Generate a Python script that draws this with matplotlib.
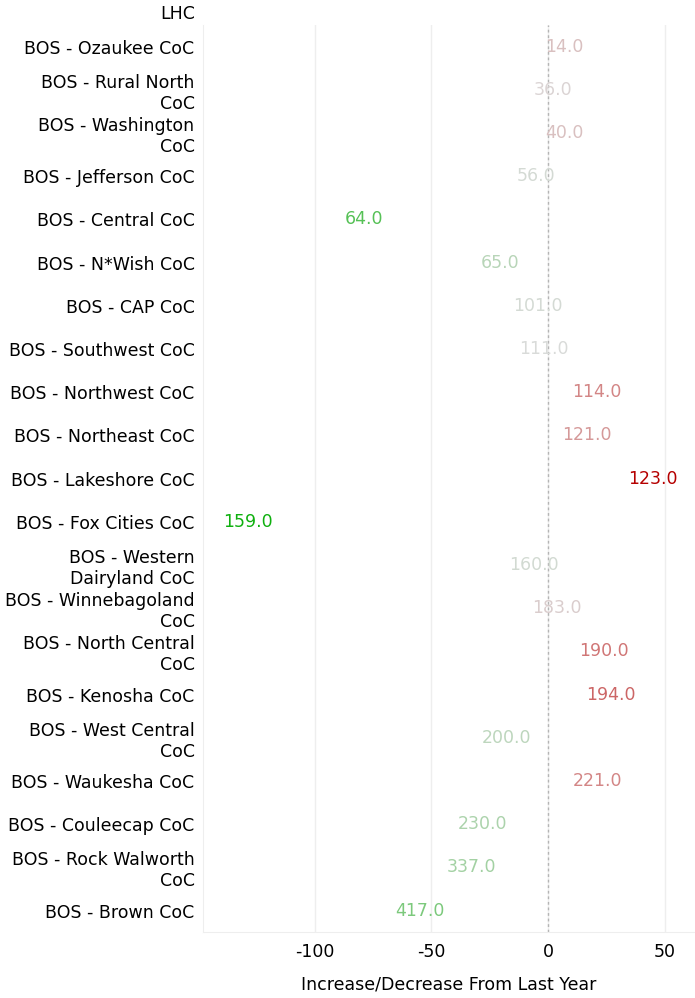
import matplotlib
matplotlib.use("agg")
import matplotlib.pyplot as plt
from matplotlib.colors import LinearSegmentedColormap, TwoSlopeNorm

# categories, top to bottom (first one is cut off at the top of the chart)
categories = ['BOS - Ozaukee CoC', 'BOS - Rural North\nCoC', 'BOS - Washington\nCoC',
              'BOS - Jefferson CoC', 'BOS - Central CoC', 'BOS - N*Wish CoC',
              'BOS - CAP CoC', 'BOS - Southwest CoC', 'BOS - Northwest CoC',
              'BOS - Northeast CoC', 'BOS - Lakeshore CoC', 'BOS - Fox Cities CoC',
              'BOS - Western\nDairyland CoC', 'BOS - Winnebagoland\nCoC',
              'BOS - North Central\nCoC', 'BOS - Kenosha CoC', 'BOS - West Central\nCoC',
              'BOS - Waukesha CoC', 'BOS - Couleecap CoC', 'BOS - Rock Walworth\nCoC',
              'BOS - Brown CoC']
counts = [14, 36, 40, 56, 64, 65, 101, 111, 114, 121, 123, 159, 160, 183, 190, 194,
          200, 221, 230, 337, 417]
change = [7, 2, 7, -5, -79, -20.5, -4.3, -2, 21, 16.5, 45, -128.6, -6, 3.6, 24, 27,
          -18, 21, -28, -33, -55]

plt.rcParams['font.family'] = ['DejaVu Sans']
fig = plt.figure(figsize=(6.95, 9.98), dpi=100)
ax = fig.add_axes([0.292, 0.066, 0.708, 0.909])

cmap = LinearSegmentedColormap.from_list('gr', ['#0fb00f', '#6cc66c', '#dcdcdc', '#d28080', '#b50000'])
norm = TwoSlopeNorm(vmin=min(change), vcenter=0, vmax=max(change))

ypos = list(range(1, len(categories) + 1))
for y, c, n in zip(ypos, change, counts):
    ax.text(c, y, '%.1f' % n, ha='center', va='center', fontsize=12.5,
            color=cmap(norm(c)), zorder=3)

# label of the category that sits above the visible area
ax.text(-0.015, 0.24, 'LHC', transform=ax.get_yaxis_transform(), ha='right',
        va='center', fontsize=12.5, clip_on=False)

ax.set_xlim(-148, 63)
ax.set_ylim(21.5, 0.5)
ax.set_yticks(ypos)
ax.set_yticklabels(categories, fontsize=12.5, linespacing=1.2)
ax.set_xticks([-100, -50, 0, 50])
ax.set_xticklabels(['-100', '-50', '0', '50'], fontsize=12.5)
ax.tick_params(length=0, pad=6)
ax.tick_params(axis='x', pad=8)
ax.grid(axis='x', color='#eeeeee', linewidth=1)
ax.axvline(0, color='#b4b4b4', linestyle=(0, (2, 2)), linewidth=1, zorder=2.5)
for s in ['top', 'right']:
    ax.spines[s].set_visible(False)
for s in ['left', 'bottom']:
    ax.spines[s].set_color('#eeeeee')
ax.set_xlabel('Increase/Decrease From Last Year', fontsize=12.5, labelpad=10)

plt.savefig('out.png', dpi=100)
plt.close()
